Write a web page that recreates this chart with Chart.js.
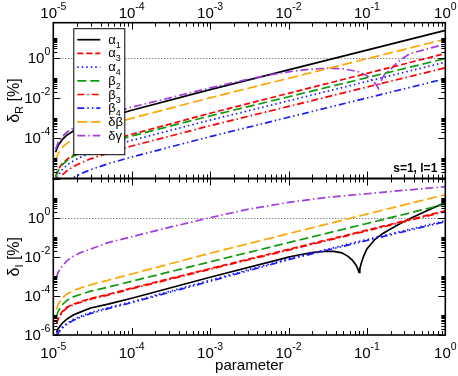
<!DOCTYPE html>
<html><head><meta charset="utf-8">
<script src="https://cdn.jsdelivr.net/npm/chart.js@4.4.1/dist/chart.umd.min.js"></script>
<style>
html,body{margin:0;padding:0;background:#fff;}
#wrap{position:relative;width:458px;height:376px;overflow:hidden;}
canvas{position:absolute;left:0;top:0;}
</style></head><body>
<div id="wrap"><canvas id="cR" width="458" height="376" style="width:458px;height:376px"></canvas><canvas id="cI" width="458" height="376" style="width:458px;height:376px"></canvas></div>
<script>
// ---------- data: top panel (delta_R) ----------
const xR   = [1.07e-5, 1.15e-5, 1.3e-5, 1.5e-5, 1.8e-5, 2.2e-5, 3e-5, 5e-5, 1e-4, 1e-3, 1e-2, 1e-1, 1];
const a1R  = [2.0e-5, 4.3e-5, 8.5e-5, 1.45e-4, 2.3e-4, 3.4e-4, 5.6e-4, 1.12e-3, 2.45e-3, 2.6e-2, 0.25, 2.4, 23];
const a3R  = [1.26e-6, 2.75e-6, 5.5e-6, 9.1e-6, 1.45e-5, 2.2e-5, 3.6e-5, 7.1e-5, 1.58e-4, 1.74e-3, 1.7e-2, 0.166, 1.62];
const a4R  = [6.6e-7, 1.41e-6, 2.8e-6, 4.7e-6, 7.4e-6, 1.12e-5, 1.82e-5, 3.5e-5, 7.8e-5, 7.9e-4, 7.2e-3, 6.6e-2, 0.60];
const b2R  = [1.12e-6, 2.4e-6, 4.8e-6, 7.9e-6, 1.26e-5, 1.86e-5, 3.1e-5, 6.0e-5, 1.29e-4, 1.29e-3, 1.15e-2, 0.102, 0.91];
const b3R  = [3.5e-7, 7.4e-7, 1.48e-6, 2.45e-6, 3.9e-6, 5.75e-6, 9.5e-6, 1.86e-5, 4.1e-5, 4.2e-4, 3.8e-3, 3.5e-2, 0.316];
const b4R  = [1.0e-7, 2.1e-7, 4.3e-7, 7.1e-7, 1.12e-6, 1.66e-6, 2.75e-6, 5.4e-6, 1.17e-5, 1.2e-4, 1.1e-3, 1.0e-2, 9.1e-2];
const dbR  = [8.1e-6, 1.74e-5, 3.5e-5, 5.75e-5, 9.1e-5, 1.38e-4, 2.3e-4, 4.5e-4, 9.8e-4, 1.02e-2, 9.5e-2, 0.89, 8.3];
const xDgR = [1.07e-5, 1.15e-5, 1.3e-5, 1.5e-5, 1.8e-5, 2.2e-5, 3e-5, 5e-5, 1e-4, 1e-3, 3.2e-3, 5.75e-3, 1e-2, 1.9e-2, 3.2e-2, 5e-2, 7.9e-2, 0.1, 0.117, 0.132, 0.14, 0.148, 0.158, 0.17, 0.2, 0.25, 0.35, 0.63, 1];
const dgR  = [2.8e-5, 6.0e-5, 1.2e-4, 2.04e-4, 3.2e-4, 4.8e-4, 7.9e-4, 1.58e-3, 3.5e-3, 3.16e-2, 8.9e-2, 0.141, 0.20, 0.27, 0.30, 0.28, 0.20, 0.126, 7.6e-2, 4.5e-2, 3.0e-2, 5.6e-2, 0.10, 0.158, 0.263, 0.63, 1.58, 2.95, 4.7];

// ---------- data: bottom panel (delta_I) ----------
const xI   = [1.1e-5, 1.15e-5, 1.3e-5, 1.5e-5, 1.8e-5, 2.2e-5, 3e-5, 5e-5, 1e-4, 1e-3, 1e-2, 1e-1, 1];
const a3I  = [4.0e-6, 7.1e-6, 1.58e-5, 2.7e-5, 3.8e-5, 5.0e-5, 7.4e-5, 1.2e-4, 2.5e-4, 2.5e-3, 2.4e-2, 0.229, 2.24];
const a4I  = [1.0e-6, 1.41e-6, 2.5e-6, 4.0e-6, 6.3e-6, 8.9e-6, 1.41e-5, 2.5e-5, 5.0e-5, 6.3e-4, 7.9e-3, 7.6e-2, 0.69];
const b2I  = [8.9e-6, 1.58e-5, 3.55e-5, 6.0e-5, 8.9e-5, 1.17e-4, 1.74e-4, 2.8e-4, 5.6e-4, 5.5e-3, 5.25e-2, 0.50, 4.9];
const b3I  = [3.6e-6, 6.5e-6, 1.45e-5, 2.45e-5, 3.5e-5, 4.6e-5, 6.8e-5, 1.1e-4, 2.3e-4, 2.3e-3, 2.2e-2, 0.209, 2.04];
const b4I  = [8.9e-7, 1.26e-6, 2.24e-6, 3.55e-6, 5.6e-6, 7.9e-6, 1.26e-5, 2.24e-5, 4.5e-5, 5.6e-4, 7.1e-3, 6.8e-2, 0.62];
const dbI  = [2.0e-5, 3.55e-5, 7.9e-5, 1.26e-4, 1.86e-4, 2.5e-4, 3.7e-4, 6.3e-4, 1.32e-3, 1.51e-2, 0.151, 1.51, 14.8];
const xDgI = [1.1e-5, 1.15e-5, 1.3e-5, 1.5e-5, 1.8e-5, 2.2e-5, 3e-5, 5e-5, 1e-4, 3e-4, 1e-3, 3e-3, 1e-2, 3e-2, 1e-1, 3e-1, 1];
const dgI  = [8.9e-4, 1.58e-3, 3.3e-3, 6.3e-3, 1.05e-2, 1.58e-2, 2.5e-2, 5.25e-2, 0.105, 0.316, 1.0, 2.63, 6.0, 10.7, 16.6, 25, 38];
const xA1I = [1.1e-5, 1.15e-5, 1.3e-5, 1.5e-5, 1.8e-5, 2.2e-5, 3e-5, 5e-5, 1e-4, 1e-3, 1e-2, 0.014, 0.02, 0.0282, 0.038, 0.0479, 0.0575, 0.066, 0.0724, 0.0767, 0.0794, 0.0813, 0.0851, 0.0912, 0.1, 0.126, 0.158, 0.2, 0.282, 0.398, 0.631, 1];
const a1I  = [1.32e-6, 2.1e-6, 4.0e-6, 6.6e-6, 1.05e-5, 1.48e-5, 2.4e-5, 3.8e-5, 7.6e-5, 8.9e-4, 9.5e-3, 1.26e-2, 1.62e-2, 1.86e-2, 1.9e-2, 1.58e-2, 1.05e-2, 6.3e-3, 3.8e-3, 2.4e-3, 1.58e-3, 2.5e-3, 5.0e-3, 1.12e-2, 2.5e-2, 7.6e-2, 0.151, 0.263, 0.562, 1.12, 2.63, 6.0];

// ---------- axes / ticks ----------
const xDecades  = [1e-5, 1e-4, 1e-3, 1e-2, 1e-1, 1];
const xTickExps = ['-5', '-4', '-3', '-2', '-1', '0'];
const yMajorR   = [1e-6, 1e-4, 1e-2, 1];
const yMajorI   = [1e-6, 1e-4, 1e-2, 1, 100];
const yLabValsR = [1, 1e-2, 1e-4];
const yLabExpsR = ['0', '-2', '-4'];
const yLabValsI = [1, 1e-2, 1e-4, 1e-6];
const yLabExpsI = ['0', '-2', '-4', '-6'];
const legendNames = ['α', 'α', 'α', 'β', 'β', 'β', 'δβ', 'δγ'];
const legendSubs  = ['1', '3', '4', '2', '3', '4', '', ''];

const FONT = '"Liberation Sans", Arial, Helvetica, sans-serif';
const ST = {
  a1: {c: '#000000', d: []},
  a3: {c: '#ff0000', d: [6, 3]},
  a4: {c: '#1a1aff', d: [1.5, 3]},
  b2: {c: '#109a10', d: [9, 4]},
  b3: {c: '#ff0000', d: [7, 3, 1.5, 3]},
  b4: {c: '#1a1aff', d: [7, 3, 1.5, 3, 1.5, 3]},
  db: {c: '#ffa500', d: [10, 4]},
  dg: {c: '#a03ce0', d: [8, 3, 1.5, 3]}
};
const legendKeys = ['a1', 'a3', 'a4', 'b2', 'b3', 'b4', 'db', 'dg'];

function ds(xs, ys, key) {
  return {data: xs.map((x, i) => ({x: x, y: ys[i]})), borderColor: ST[key].c, borderDash: ST[key].d,
    borderWidth: 1.7, pointRadius: 0, fill: false, tension: 0, key: key};
}

function pow10(ctx, exp, x, y, align) {
  ctx.font = '15px ' + FONT;
  const w1 = ctx.measureText('10').width;
  ctx.font = '10.5px ' + FONT;
  const w2 = ctx.measureText(exp).width;
  const tot = w1 + w2;
  const x0 = align === 'center' ? x - tot / 2 : (align === 'right' ? x - tot : x);
  ctx.textAlign = 'left'; ctx.textBaseline = 'alphabetic'; ctx.fillStyle = '#000';
  ctx.font = '15px ' + FONT; ctx.fillText('10', x0, y);
  ctx.font = '10.5px ' + FONT; ctx.fillText(exp, x0 + w1, y - 8);
}

function frameTicks(chart, yMajors) {
  const ctx = chart.ctx, a = chart.chartArea, xs = chart.scales.x, ys = chart.scales.y;
  ctx.save();
  ctx.strokeStyle = '#000'; ctx.lineWidth = 1;
  ctx.beginPath();
  xDecades.forEach(d => {
    for (let k = 1; k <= 9; k++) {
      const v = d * k;
      if (v > xs.max * 1.0001) break;
      const px = Math.round(xs.getPixelForValue(v)) + 0.5;
      const L = k === 1 ? 7 : 4;
      ctx.moveTo(px, a.bottom); ctx.lineTo(px, a.bottom - L);
      ctx.moveTo(px, a.top); ctx.lineTo(px, a.top + L);
    }
  });
  yMajors.forEach(d => {
    for (let k = 1; k <= 10; k++) {
      const v = d * k;
      if (v > ys.max * 1.0001 || v < ys.min * 0.9999) continue;
      const py = Math.round(ys.getPixelForValue(v)) + 0.5;
      const L = k === 1 ? 7 : 4;
      ctx.moveTo(a.left, py); ctx.lineTo(a.left + L, py);
      ctx.moveTo(a.right, py); ctx.lineTo(a.right - L, py);
    }
  });
  ctx.stroke();
  ctx.lineWidth = 1.6;
  ctx.strokeRect(a.left, a.top, a.right - a.left, a.bottom - a.top);
  ctx.restore();
}

function unityLine(chart) {
  const ctx = chart.ctx, a = chart.chartArea, ys = chart.scales.y;
  const py = Math.round(ys.getPixelForValue(1)) + 0.5;
  ctx.save();
  ctx.strokeStyle = '#555'; ctx.lineWidth = 1; ctx.setLineDash([1, 2]);
  ctx.beginPath(); ctx.moveTo(a.left, py); ctx.lineTo(a.right, py); ctx.stroke();
  ctx.restore();
}

function yLabels(chart, vals, exps) {
  const ctx = chart.ctx, a = chart.chartArea, ys = chart.scales.y;
  ctx.save();
  vals.forEach((v, i) => pow10(ctx, exps[i], a.left - 3, ys.getPixelForValue(v) + 5, 'right'));
  ctx.restore();
}

function yTitle(chart, sub) {
  const ctx = chart.ctx, a = chart.chartArea;
  const cy = (a.top + a.bottom) / 2;
  ctx.save();
  ctx.translate(19, cy);
  ctx.rotate(-Math.PI / 2);
  ctx.fillStyle = '#000'; ctx.textBaseline = 'alphabetic'; ctx.textAlign = 'left';
  ctx.font = '16px ' + FONT;
  const w1 = ctx.measureText('δ').width;
  const w3 = ctx.measureText(' [%]').width;
  ctx.font = '11px ' + FONT;
  const w2 = ctx.measureText(sub).width;
  const x0 = -(w1 + w2 + w3) / 2;
  ctx.font = '16px ' + FONT; ctx.fillText('δ', x0, 0);
  ctx.font = '11px ' + FONT; ctx.fillText(sub, x0 + w1, 4);
  ctx.font = '16px ' + FONT; ctx.fillText(' [%]', x0 + w1 + w2, 0);
  ctx.restore();
}

const plugR = {
  id: 'plugR',
  beforeDatasetsDraw(chart) { unityLine(chart); },
  afterDraw(chart) {
    const ctx = chart.ctx, a = chart.chartArea, xs = chart.scales.x;
    frameTicks(chart, yMajorR);
    ctx.save();
    xDecades.forEach((d, i) => pow10(ctx, xTickExps[i], xs.getPixelForValue(d), a.top - 4.5, 'center'));
    ctx.restore();
    yLabels(chart, yLabValsR, yLabExpsR);
    yTitle(chart, 'R');
    // legend
    const lx = a.left + 20, ly = a.top + 5.5, lw = 51, lh = 126;
    ctx.save();
    ctx.fillStyle = '#fff'; ctx.fillRect(lx, ly, lw, lh);
    ctx.strokeStyle = '#000'; ctx.lineWidth = 1; ctx.strokeRect(lx + 0.5, ly + 0.5, lw, lh);
    legendKeys.forEach((k, i) => {
      const y = ly + 11.5 + i * 13.7;
      ctx.strokeStyle = ST[k].c; ctx.lineWidth = 1.7; ctx.setLineDash(ST[k].d);
      ctx.beginPath(); ctx.moveTo(lx + 4, y); ctx.lineTo(lx + 27, y); ctx.stroke();
      ctx.setLineDash([]);
      ctx.fillStyle = '#000'; ctx.textAlign = 'left'; ctx.textBaseline = 'alphabetic';
      ctx.font = '13px ' + FONT;
      ctx.fillText(legendNames[i], lx + 35, y + 4);
      const w = ctx.measureText(legendNames[i]).width;
      if (legendSubs[i]) { ctx.font = '9px ' + FONT; ctx.fillText(legendSubs[i], lx + 35 + w, y + 8); }
    });
    ctx.fillStyle = '#000'; ctx.font = 'bold 12px ' + FONT; ctx.textAlign = 'right';
    ctx.fillText('s=1, l=1', a.right - 8, a.bottom - 7);
    ctx.restore();
  }
};

const plugI = {
  id: 'plugI',
  beforeDatasetsDraw(chart) { unityLine(chart); },
  afterDraw(chart) {
    const ctx = chart.ctx, a = chart.chartArea, xs = chart.scales.x;
    frameTicks(chart, yMajorI);
    ctx.save();
    xDecades.forEach((d, i) => pow10(ctx, xTickExps[i], xs.getPixelForValue(d), a.bottom + 23, 'center'));
    ctx.fillStyle = '#000'; ctx.font = '15px ' + FONT; ctx.textAlign = 'center'; ctx.textBaseline = 'alphabetic';
    ctx.fillText('parameter', (a.left + a.right) / 2, a.bottom + 35);
    ctx.restore();
    yLabels(chart, yLabValsI, yLabExpsI);
    yTitle(chart, 'I');
  }
};

function opts(pad, ymin, ymax) {
  return {
    responsive: false, animation: false, devicePixelRatio: 1, events: [],
    layout: {padding: pad},
    plugins: {legend: {display: false}, tooltip: {enabled: false}, title: {display: false}},
    scales: {
      x: {type: 'logarithmic', min: 1e-5, max: 1, display: false},
      y: {type: 'logarithmic', min: ymin, max: ymax, display: false}
    }
  };
}

new Chart(document.getElementById('cR'), {
  type: 'line',
  data: {datasets: [
    ds(xR, b4R, 'b4'), ds(xR, b3R, 'b3'), ds(xR, a4R, 'a4'), ds(xR, b2R, 'b2'),
    ds(xR, a3R, 'a3'), ds(xR, dbR, 'db'), ds(xDgR, dgR, 'dg'), ds(xR, a1R, 'a1')
  ]},
  options: opts({left: 53.3, right: 12.7, top: 22.7, bottom: 197.5}, 1e-6, 55),
  plugins: [plugR]
});

new Chart(document.getElementById('cI'), {
  type: 'line',
  data: {datasets: [
    ds(xI, b4I, 'b4'), ds(xI, a4I, 'a4'), ds(xI, b3I, 'b3'), ds(xI, a3I, 'a3'),
    ds(xI, b2I, 'b2'), ds(xI, dbI, 'db'), ds(xDgI, dgI, 'dg'), ds(xA1I, a1I, 'a1')
  ]},
  options: opts({left: 53.3, right: 12.7, top: 178.5, bottom: 41}, 1e-6, 100),
  plugins: [plugI]
});
</script>
</body></html>
